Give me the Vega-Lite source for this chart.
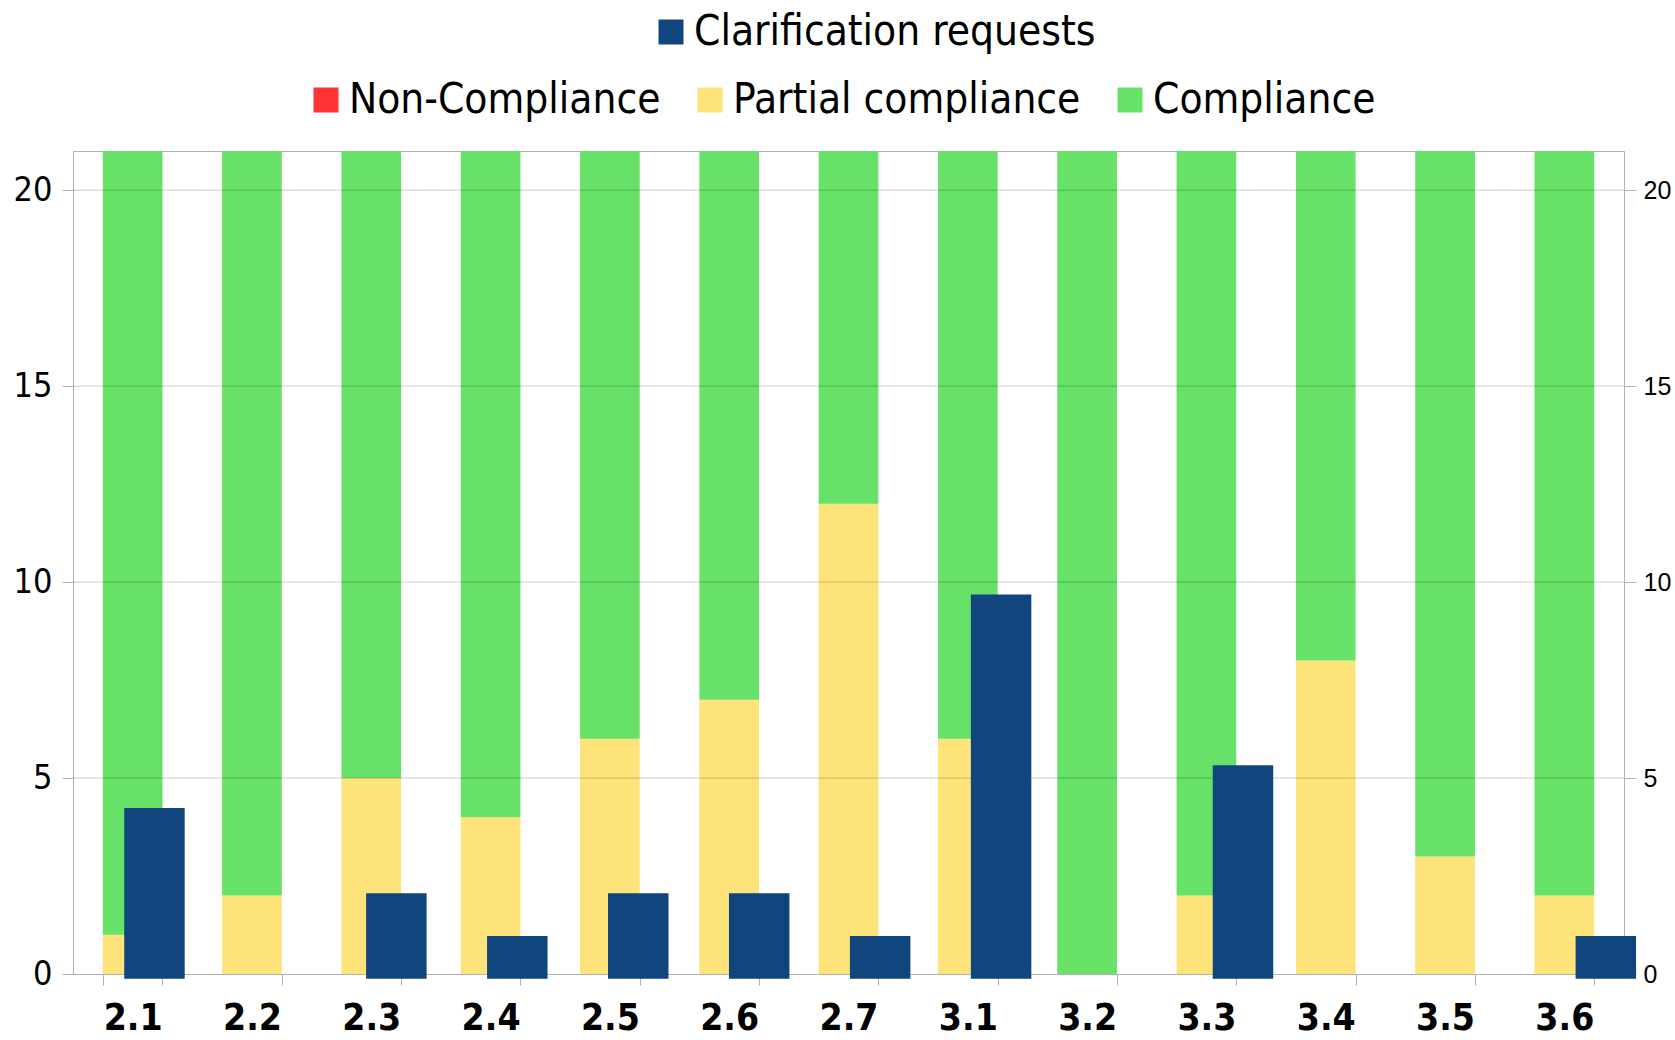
{
  "$schema": "https://vega.github.io/schema/vega-lite/v6.json",
  "width": 1551,
  "height": 823,
  "autosize": {"type": "none"},
  "padding": {"left": 73, "top": 151, "right": 51, "bottom": 66},
  "background": "white",
  "config": {
    "view": {"stroke": "#b3b3b3", "strokeWidth": 1},
    "font": "DejaVu Sans Condensed"
  },
  "datasets": {
    "compliance": [
      {"item": "2.1", "status": "Non-Compliance", "count": 0},
      {"item": "2.1", "status": "Partial compliance", "count": 1},
      {"item": "2.1", "status": "Compliance", "count": 20},
      {"item": "2.2", "status": "Non-Compliance", "count": 0},
      {"item": "2.2", "status": "Partial compliance", "count": 2},
      {"item": "2.2", "status": "Compliance", "count": 19},
      {"item": "2.3", "status": "Non-Compliance", "count": 0},
      {"item": "2.3", "status": "Partial compliance", "count": 5},
      {"item": "2.3", "status": "Compliance", "count": 16},
      {"item": "2.4", "status": "Non-Compliance", "count": 0},
      {"item": "2.4", "status": "Partial compliance", "count": 4},
      {"item": "2.4", "status": "Compliance", "count": 17},
      {"item": "2.5", "status": "Non-Compliance", "count": 0},
      {"item": "2.5", "status": "Partial compliance", "count": 6},
      {"item": "2.5", "status": "Compliance", "count": 15},
      {"item": "2.6", "status": "Non-Compliance", "count": 0},
      {"item": "2.6", "status": "Partial compliance", "count": 7},
      {"item": "2.6", "status": "Compliance", "count": 14},
      {"item": "2.7", "status": "Non-Compliance", "count": 0},
      {"item": "2.7", "status": "Partial compliance", "count": 12},
      {"item": "2.7", "status": "Compliance", "count": 9},
      {"item": "3.1", "status": "Non-Compliance", "count": 0},
      {"item": "3.1", "status": "Partial compliance", "count": 6},
      {"item": "3.1", "status": "Compliance", "count": 15},
      {"item": "3.2", "status": "Non-Compliance", "count": 0},
      {"item": "3.2", "status": "Partial compliance", "count": 0},
      {"item": "3.2", "status": "Compliance", "count": 21},
      {"item": "3.3", "status": "Non-Compliance", "count": 0},
      {"item": "3.3", "status": "Partial compliance", "count": 2},
      {"item": "3.3", "status": "Compliance", "count": 19},
      {"item": "3.4", "status": "Non-Compliance", "count": 0},
      {"item": "3.4", "status": "Partial compliance", "count": 8},
      {"item": "3.4", "status": "Compliance", "count": 13},
      {"item": "3.5", "status": "Non-Compliance", "count": 0},
      {"item": "3.5", "status": "Partial compliance", "count": 3},
      {"item": "3.5", "status": "Compliance", "count": 18},
      {"item": "3.6", "status": "Non-Compliance", "count": 0},
      {"item": "3.6", "status": "Partial compliance", "count": 2},
      {"item": "3.6", "status": "Compliance", "count": 19}
    ],
    "requests": [
      {"item": "2.1", "requests": 4},
      {"item": "2.2", "requests": 0},
      {"item": "2.3", "requests": 2},
      {"item": "2.4", "requests": 1},
      {"item": "2.5", "requests": 2},
      {"item": "2.6", "requests": 2},
      {"item": "2.7", "requests": 1},
      {"item": "3.1", "requests": 9},
      {"item": "3.2", "requests": 0},
      {"item": "3.3", "requests": 5},
      {"item": "3.4", "requests": 0},
      {"item": "3.5", "requests": 0},
      {"item": "3.6", "requests": 1}
    ],
    "gridlines": [
      {"level": 5},
      {"level": 10},
      {"level": 15},
      {"level": 20}
    ]
  },
  "layer": [
    {
      "data": {"name": "compliance"},
      "mark": {"type": "bar"},
      "encoding": {
        "x": {
          "field": "item",
          "type": "nominal",
          "sort": null,
          "scale": {"paddingInner": 0.5, "paddingOuter": 0.25},
          "axis": {
            "title": null,
            "labelAngle": 0,
            "labelFont": "DejaVu Sans Condensed",
            "labelFontWeight": "bold",
            "labelFontSize": 37,
            "labelColor": "#000000",
            "domainColor": "#b3b3b3",
            "tickColor": "#b3b3b3",
            "tickSize": 11,
            "tickBand": "extent",
            "labelPadding": 15,
            "grid": false
          }
        },
        "y": {
          "field": "count",
          "type": "quantitative",
          "stack": "zero",
          "scale": {"domain": [0, 21], "nice": false},
          "axis": {
            "title": null,
            "values": [0, 5, 10, 15, 20],
            "grid": false,
            "labelFont": "DejaVu Sans Condensed",
            "labelFontSize": 34,
            "labelColor": "#000000",
            "domainColor": "#b3b3b3",
            "tickColor": "#b3b3b3",
            "tickSize": 11,
            "labelPadding": 10
          }
        },
        "color": {
          "field": "status",
          "type": "nominal",
          "sort": ["Non-Compliance", "Partial compliance", "Compliance"],
          "scale": {
            "domain": ["Non-Compliance", "Partial compliance", "Compliance"],
            "range": ["#ff3333", "#fde37a", "#67e168"]
          },
          "legend": {
            "orient": "none",
            "legendX": 232,
            "legendY": -72,
            "direction": "horizontal",
            "title": null,
            "symbolType": "square",
            "symbolSize": 625,
            "symbolStrokeWidth": 0,
            "labelFont": "DejaVu Sans Condensed",
            "labelFontSize": 42,
            "labelColor": "#000000",
            "labelOffset": 2,
            "columnPadding": 28,
            "labelLimit": 2000,
            "padding": 0
          }
        }
      }
    },
    {
      "data": {"name": "gridlines"},
      "mark": {"type": "rule", "color": "#000000", "opacity": 0.2, "strokeWidth": 1},
      "encoding": {
        "y": {
          "field": "level",
          "type": "quantitative",
          "scale": {"domain": [0, 21], "nice": false},
          "axis": {
            "orient": "right",
            "title": null,
            "values": [0, 5, 10, 15, 20],
            "grid": false,
            "labelFont": "Liberation Sans",
            "labelFontSize": 25,
            "labelColor": "#000000",
            "domainColor": "#b3b3b3",
            "tickColor": "#b3b3b3",
            "tickSize": 12,
            "labelPadding": 7
          }
        }
      }
    },
    {
      "data": {"name": "requests"},
      "mark": {"type": "bar"},
      "encoding": {
        "x": {
          "field": "item",
          "type": "nominal",
          "sort": null,
          "scale": {"range": [21, 1593.3], "paddingInner": 0.5, "paddingOuter": 0.25},
          "axis": null
        },
        "y": {
          "field": "requests",
          "type": "quantitative",
          "scale": {"domain": [0, 20], "nice": false, "range": [827.7, -26.3]},
          "axis": null
        },
        "color": {
          "datum": "Clarification requests",
          "scale": {"range": ["#11457d"]},
          "legend": {
            "orient": "none",
            "legendX": 577,
            "legendY": -140,
            "direction": "horizontal",
            "title": null,
            "symbolType": "square",
            "symbolSize": 625,
            "symbolStrokeWidth": 0,
            "labelFont": "DejaVu Sans Condensed",
            "labelFontSize": 42,
            "labelColor": "#000000",
            "labelOffset": 2,
            "labelLimit": 2000,
            "padding": 0
          }
        }
      }
    }
  ],
  "resolve": {"scale": {"x": "independent", "y": "independent", "color": "independent"}}
}
